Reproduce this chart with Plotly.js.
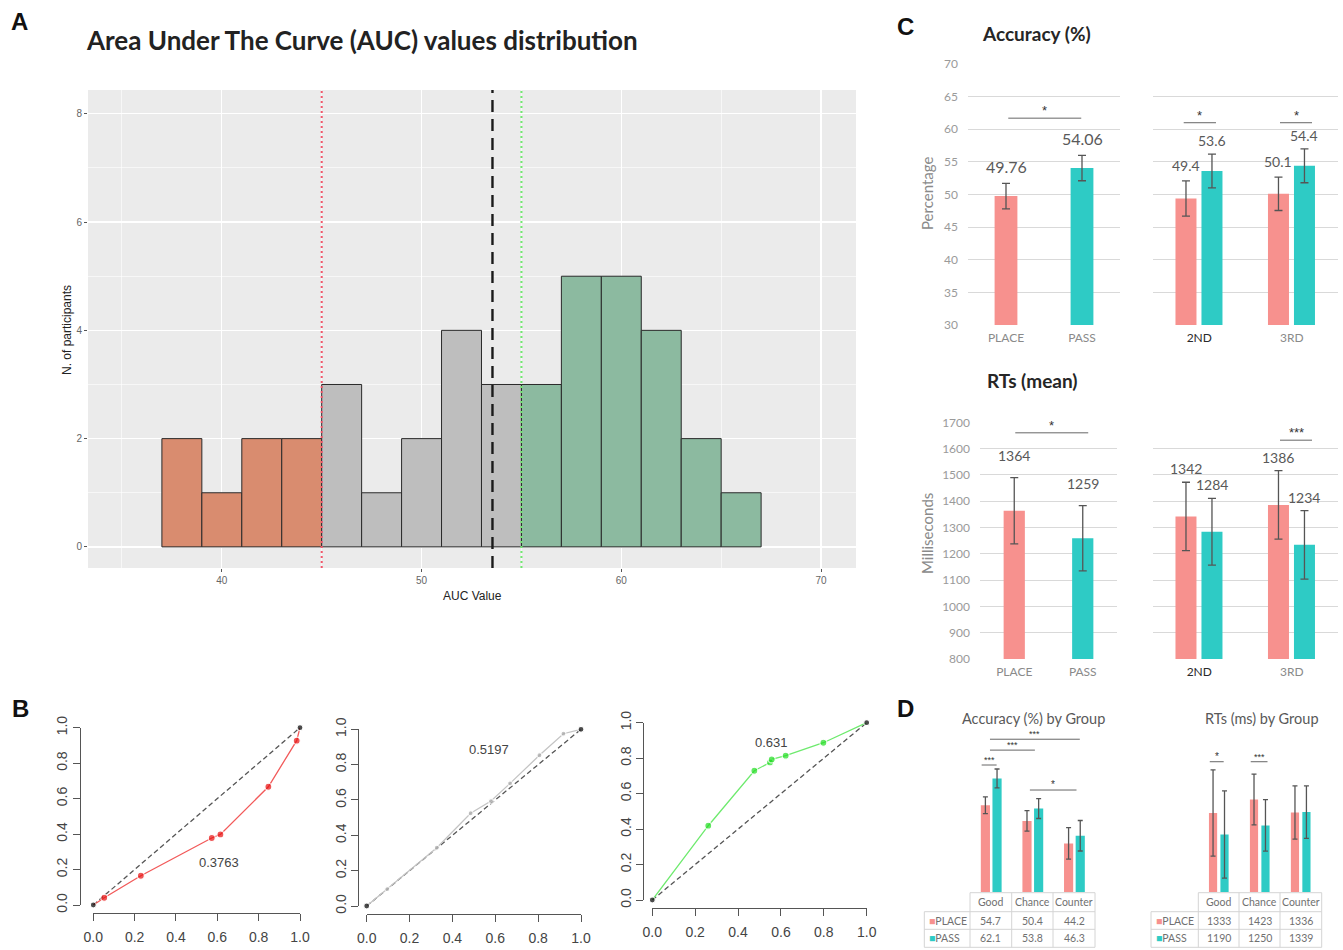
<!DOCTYPE html>
<html>
<head>
<meta charset="utf-8">
<script src="https://cdn.plot.ly/plotly-3.0.1.min.js"></script>
<style>html,body{margin:0;padding:0;background:#fff;}#chart{width:1343px;height:950px;}</style>
</head>
<body>
<div id="chart"></div>
<script>
// ---------------- DATA ----------------
// Panel A: histogram of AUC values (bin centres, width 2)
const aucBinCenters = [38, 40, 42, 44, 46, 48, 50, 52, 54, 56, 58, 60, 62, 64, 66];
const aucCounts     = [2, 1, 2, 2, 3, 1, 2, 4, 3, 3, 5, 5, 4, 2, 1];
const aucGroups     = ['low','low','low','low','mid','mid','mid','mid','mid','high','high','high','high','high','high'];
const aucCutoffs    = [45, 55];
const aucMean       = 53.55;
const aucTicks      = [40, 50, 60, 70];

// Panel B: ROC-like curves
const rocLowFpr  = [0, 0.053, 0.23, 0.573, 0.615, 0.847, 0.984, 1];
const rocLowTpr  = [0, 0.041, 0.165, 0.378, 0.398, 0.667, 0.927, 1];
const rocMidFpr  = [0, 0.096, 0.327, 0.485, 0.58, 0.669, 0.806, 0.918, 1];
const rocMidTpr  = [0, 0.096, 0.33, 0.525, 0.594, 0.694, 0.853, 0.975, 1];
const rocHighFpr = [0, 0.261, 0.476, 0.549, 0.557, 0.622, 0.798, 1];
const rocHighTpr = [0, 0.419, 0.729, 0.776, 0.793, 0.814, 0.887, 1];
const rocAucLabels = ['0.3763', '0.5197', '0.631'];
const rocTicks = [0, 0.2, 0.4, 0.6, 0.8, 1];
const rocTickText = ['0.0', '0.2', '0.4', '0.6', '0.8', '1.0'];

// Panel C
const groupLabels   = ['PLACE', 'PASS'];
const sessionLabels = ['2ND', '3RD'];
const accOverall    = [49.76, 54.06];
const accOverallErr = [1.95, 1.95];
const accPlaceBySession = [49.4, 50.1];
const accPassBySession  = [53.6, 54.4];
const accPlaceSessErr   = [2.7, 2.55];
const accPassSessErr    = [2.6, 2.6];
const rtOverall    = [1364, 1259];
const rtOverallErr = [126, 124];
const rtPlaceBySession = [1342, 1386];
const rtPassBySession  = [1284, 1234];
const rtPlaceSessErr   = [130, 130];
const rtPassSessErr    = [127, 130];

// Panel D
const aucGroupLabels  = ['Good', 'Chance', 'Counter'];
const accGroupPlace    = [54.7, 50.4, 44.2];
const accGroupPass     = [62.1, 53.8, 46.3];
const accGroupPlaceErr = [2.3, 2.8, 4.35];
const accGroupPassErr  = [2.6, 2.75, 4.2];
const rtGroupPlace     = [1333, 1423, 1336];
const rtGroupPass      = [1190, 1250, 1339];
const rtGroupPlaceErr  = [288, 169, 178];
const rtGroupPassErr   = [291, 172, 175];

// ---------------- HELPERS ----------------
const W = 1343, H = 950;
const px = v => v / W;
const py = v => 1 - v / H;
const domX = (a, b) => [px(a), px(b)];
const domY = (top, bottom) => [py(bottom), py(top)];

const LATO = 'Lato, "Open Sans", sans-serif';
const ARIAL = '"Liberation Sans", Arial, sans-serif';
const PLACE_COLOR = '#F7918E';
const PASS_COLOR = '#2ECBC5';
const ERR_COLOR = '#555555';

const traces = [];
const shapes = [];
const annotations = [];
const layout = {
  width: W, height: H,
  margin: {l: 0, r: 0, t: 0, b: 0},
  paper_bgcolor: '#ffffff',
  plot_bgcolor: 'rgba(0,0,0,0)',
  showlegend: false,
  barmode: 'overlay',
  font: {family: ARIAL, color: '#444'},
  shapes: shapes,
  annotations: annotations
};

function label(text, x, y, size, opts) {
  annotations.push(Object.assign({
    xref: 'paper', yref: 'paper', x: px(x), y: py(y), text: text, showarrow: false,
    xanchor: 'center', yanchor: 'middle',
    font: {family: LATO, size: size, color: '#222'}
  }, opts || {}));
}
function pline(x0, y0, x1, y1, color) {
  shapes.push({type: 'line', xref: 'paper', yref: 'paper', x0: px(x0), y0: py(y0), x1: px(x1), y1: py(y1),
    line: {color: color, width: 1}});
}

// ---------------- PANEL A ----------------
const histColors = {low: '#D98C6F', mid: '#BEBEBE', high: '#8CBAA0'};
shapes.push({type: 'rect', xref: 'x domain', yref: 'y domain', x0: 0, x1: 1, y0: 0, y1: 1,
  fillcolor: '#EBEBEB', line: {width: 0}, layer: 'below'});
traces.push({
  type: 'bar', x: aucBinCenters, y: aucCounts, width: 2, xaxis: 'x', yaxis: 'y',
  marker: {color: aucGroups.map(g => histColors[g]), line: {color: '#2a2a2a', width: 1}},
  hoverinfo: 'skip'
});
layout.xaxis = {
  domain: domX(88, 856), range: [33.3, 71.75], anchor: 'y',
  tickmode: 'array', tickvals: aucTicks,
  showgrid: true, gridcolor: '#ffffff', gridwidth: 1.3,
  minor: {dtick: 5, tick0: 35, showgrid: true, gridcolor: '#ffffff', gridwidth: 0.6},
  ticks: 'outside', ticklen: 3, tickcolor: '#555', tickfont: {family: ARIAL, size: 10, color: '#666'},
  zeroline: false, showline: false
};
layout.yaxis = {
  domain: domY(90, 568), range: [-0.39, 8.44], anchor: 'x',
  dtick: 2, tick0: 0,
  showgrid: true, gridcolor: '#ffffff', gridwidth: 1.3,
  minor: {dtick: 1, showgrid: true, gridcolor: '#ffffff', gridwidth: 0.6},
  ticks: 'outside', ticklen: 3, tickcolor: '#555', tickfont: {family: ARIAL, size: 10, color: '#666'},
  zeroline: false, showline: false
};
shapes.push({type: 'line', xref: 'x', yref: 'y domain', x0: aucCutoffs[0], x1: aucCutoffs[0], y0: 0, y1: 1,
  line: {color: '#F2566A', width: 2, dash: '2px,3px'}});
shapes.push({type: 'line', xref: 'x', yref: 'y domain', x0: aucMean, x1: aucMean, y0: 0, y1: 1,
  line: {color: '#1a1a1a', width: 2.4, dash: '12px,7px'}});
shapes.push({type: 'line', xref: 'x', yref: 'y domain', x0: aucCutoffs[1], x1: aucCutoffs[1], y0: 0, y1: 1,
  line: {color: '#6FE86F', width: 2, dash: '2px,3px'}});

label('A', 19, 21, 24, {font: {family: ARIAL, size: 24, color: '#111', weight: 'bold'}});
label('Area Under The Curve (AUC) values distribution', 84, 40, 26, {xanchor: 'left', font: {family: LATO, size: 26, color: '#222', weight: 'bold'}});
label('N. of participants', 67, 330, 12, {textangle: -90, font: {family: ARIAL, size: 12, color: '#222'}});
label('AUC Value', 472, 596, 12, {font: {family: ARIAL, size: 12, color: '#222'}});

// ---------------- PANEL B ----------------
const rocPanels = [
  {fpr: rocLowFpr, tpr: rocLowTpr, line: '#F25A5A', pt: '#E81010', size: 7, auc: rocAucLabels[0], ax: [0.61, 0.24],
   x0: 93.3, x1: 300, yb: 905, yt: 727.7, yLineX: 80, xLineY: 913},
  {fpr: rocMidFpr, tpr: rocMidTpr, line: '#C4C4C4', pt: '#A8A8A8', size: 5, auc: rocAucLabels[1], ax: [0.572, 0.887],
   x0: 366.7, x1: 581, yb: 906, yt: 729.3, yLineX: 358.3, xLineY: 914},
  {fpr: rocHighFpr, tpr: rocHighTpr, line: '#6EEA6E', pt: '#22DD22', size: 7, auc: rocAucLabels[2], ax: [0.554, 0.887],
   x0: 652.3, x1: 866.7, yb: 900, yt: 722.7, yLineX: 643.3, xLineY: 907.7}
];
rocPanels.forEach((p, i) => {
  const n = i + 2;
  const xa = 'x' + n, ya = 'y' + n;
  traces.push({type: 'scatter', mode: 'lines', x: [rocTicks[0], rocTicks[rocTicks.length - 1]],
    y: [rocTicks[0], rocTicks[rocTicks.length - 1]], xaxis: xa, yaxis: ya,
    line: {color: '#555', width: 1.3, dash: '5px,3px'}, hoverinfo: 'skip', cliponaxis: false});
  const last = p.fpr.length - 1;
  traces.push({type: 'scatter', mode: 'lines+markers', x: p.fpr, y: p.tpr, xaxis: xa, yaxis: ya,
    line: {color: p.line, width: 1.3},
    marker: {color: p.fpr.map((v, j) => (j === 0 || j === last) ? '#000' : p.pt),
             size: p.fpr.map((v, j) => (j === 0 || j === last) ? 6 : p.size),
             line: {color: '#fff', width: 1.2}},
    hoverinfo: 'skip', cliponaxis: false});
  layout['xaxis' + n] = {
    domain: domX(p.x0, p.x1), range: [0, 1], anchor: 'free', position: py(p.xLineY),
    tickmode: 'array', tickvals: rocTicks, ticktext: rocTickText,
    ticks: 'outside', ticklen: 7, tickcolor: '#555', showline: true, linecolor: '#555', linewidth: 1,
    showgrid: false, zeroline: false, tickfont: {family: ARIAL, size: 14, color: '#444'}, ticklabelstandoff: 4
  };
  layout['yaxis' + n] = {
    domain: domY(p.yt, p.yb), range: [0, 1], anchor: 'free', position: px(p.yLineX),
    tickmode: 'array', tickvals: rocTicks, ticktext: rocTickText, tickangle: -90,
    ticks: 'outside', ticklen: 7, tickcolor: '#555', showline: true, linecolor: '#555', linewidth: 1,
    showgrid: false, zeroline: false, tickfont: {family: ARIAL, size: 14, color: '#444'}, ticklabelstandoff: 0
  };
  annotations.push({xref: xa, yref: ya, x: p.ax[0], y: p.ax[1], text: p.auc, showarrow: false,
    font: {family: ARIAL, size: 13, color: '#444'}});
});
label('B', 20, 708, 22, {font: {family: ARIAL, size: 24, color: '#111', weight: 'bold'}});

// ---------------- PANEL C ----------------
function catAxis(n, xd, yd, yrange, dtick, showY, ticktext, tickvals) {
  layout['xaxis' + n] = {
    domain: xd, anchor: 'y' + n, type: 'category', showgrid: false, zeroline: false, showline: false, ticks: '',
    tickfont: {family: LATO, size: 12, color: '#8a8a8a'}, ticklabelstandoff: 4
  };
  if (ticktext) { layout['xaxis' + n].tickmode = 'array'; layout['xaxis' + n].tickvals = tickvals; layout['xaxis' + n].ticktext = ticktext; }
  layout['yaxis' + n] = {
    domain: yd, anchor: 'x' + n, range: yrange, dtick: dtick, showgrid: true, gridcolor: '#D9D9D9', gridwidth: 1,
    zeroline: false, showline: false, ticks: '', showticklabels: showY,
    tickfont: {family: LATO, size: 12, color: '#9a9a9a'}, ticklabelstandoff: 9
  };
}
const sessTickText = ['<span style="color:#2a2a2a">' + sessionLabels[0] + '</span>', sessionLabels[1]];
catAxis(5, domX(968, 1120), domY(64, 325), [30, 70], 5, true);
catAxis(6, domX(1153, 1338), domY(64, 325), [30, 70], 5, false, sessTickText, sessionLabels);
catAxis(7, domX(980, 1117), domY(422.3, 659), [800, 1700], 100, true);
catAxis(8, domX(1153, 1338), domY(422.3, 659), [800, 1700], 100, false, sessTickText, sessionLabels);

const errStyle = (arr, w) => ({type: 'data', array: arr, visible: true, color: ERR_COLOR, thickness: 1.3, width: w});
traces.push({type: 'bar', x: groupLabels, y: accOverall, width: 0.3, xaxis: 'x5', yaxis: 'y5',
  marker: {color: [PLACE_COLOR, PASS_COLOR]}, error_y: errStyle(accOverallErr, 4), hoverinfo: 'skip'});
traces.push({type: 'bar', x: groupLabels, y: rtOverall, width: 0.31, xaxis: 'x7', yaxis: 'y7',
  marker: {color: [PLACE_COLOR, PASS_COLOR]}, error_y: errStyle(rtOverallErr, 4), hoverinfo: 'skip'});
const sessW = 0.227, placeOff = -0.257, passOff = 0.024;
function pairBars(n, cats, placeVals, passVals, placeErr, passErr, w, pOff, qOff, cap) {
  traces.push({type: 'bar', x: cats, y: placeVals, width: w, offset: pOff, xaxis: 'x' + n, yaxis: 'y' + n,
    marker: {color: PLACE_COLOR}, error_y: errStyle(placeErr, cap), hoverinfo: 'skip'});
  traces.push({type: 'bar', x: cats, y: passVals, width: w, offset: qOff, xaxis: 'x' + n, yaxis: 'y' + n,
    marker: {color: PASS_COLOR}, error_y: errStyle(passErr, cap), hoverinfo: 'skip'});
}
pairBars(6, sessionLabels, accPlaceBySession, accPassBySession, accPlaceSessErr, accPassSessErr, sessW, placeOff, passOff, 4);
pairBars(8, sessionLabels, rtPlaceBySession, rtPassBySession, rtPlaceSessErr, rtPassSessErr, sessW, placeOff, passOff, 4);

function valLabel(n, x, y, text, size, shift) {
  annotations.push({xref: 'x' + n, yref: 'y' + n, x: x, y: y, text: text, showarrow: false,
    yanchor: 'bottom', yshift: shift, font: {family: LATO, size: size, color: '#595959'}});
}
groupLabels.forEach((g, i) => {
  valLabel(5, i, accOverall[i] + accOverallErr[i], accOverall[i].toFixed(2), 16, 5);
  valLabel(7, i, rtOverall[i] + rtOverallErr[i], String(rtOverall[i]), 14, 12);
});
const placeC = placeOff + sessW / 2, passC = passOff + sessW / 2;
sessionLabels.forEach((s, i) => {
  valLabel(6, i + placeC, accPlaceBySession[i] + accPlaceSessErr[i], accPlaceBySession[i].toFixed(1), 14, 5);
  valLabel(6, i + passC, accPassBySession[i] + accPassSessErr[i], accPassBySession[i].toFixed(1), 14, 3);
  valLabel(8, i + placeC, rtPlaceBySession[i] + rtPlaceSessErr[i], String(rtPlaceBySession[i]), 14, 3);
  valLabel(8, i + passC, rtPassBySession[i] + rtPassSessErr[i], String(rtPassBySession[i]), 14, 3);
});

function sig(n, x0, x1, y, stars, size) {
  shapes.push({type: 'line', xref: 'x' + n, yref: 'y' + n, x0: x0, x1: x1, y0: y, y1: y,
    line: {color: '#666', width: 1}});
  annotations.push({xref: 'x' + n, yref: 'y' + n, x: (x0 + x1) / 2, y: y, text: stars, showarrow: false,
    yanchor: 'bottom', yshift: -2, font: {family: ARIAL, size: size, color: '#333'}});
}
sig(5, 0.03, 0.99, 61.7, '*', 13);
sig(6, -0.168, 0.181, 61.0, '*', 13);
sig(6, 0.873, 1.219, 61.0, '*', 13);
sig(7, 0.015, 1.08, 1660, '*', 13);
sig(8, 0.873, 1.219, 1632, '***', 13);

label('C', 905, 27, 24, {font: {family: ARIAL, size: 24, color: '#111', weight: 'bold'}});
label('Accuracy (%)', 1036, 34, 19, {font: {family: LATO, size: 19, color: '#262626', weight: 'bold'}});
label('RTs (mean)', 1032, 381, 19, {font: {family: LATO, size: 19, color: '#262626', weight: 'bold'}});
label('Percentage', 927, 194, 15, {textangle: -90, font: {family: LATO, size: 15, color: '#8a8a8a'}});
label('Milliseconds', 927, 534, 15, {textangle: -90, font: {family: LATO, size: 15, color: '#8a8a8a'}});

// ---------------- PANEL D ----------------
function hiddenAxes(n, xd, yrange) {
  layout['xaxis' + n] = {domain: xd, anchor: 'y' + n, type: 'category', visible: false};
  layout['yaxis' + n] = {domain: domY(720, 892), anchor: 'x' + n, range: yrange, visible: false};
}
hiddenAxes(9, domX(970, 1095), [30.8, 78.2]);
hiddenAxes(10, domX(1198.3, 1321.7), [806, 1953]);
pairBars(9, aucGroupLabels, accGroupPlace, accGroupPass, accGroupPlaceErr, accGroupPassErr, 0.22, -0.24, 0.04, 2.5);
pairBars(10, aucGroupLabels, rtGroupPlace, rtGroupPass, rtGroupPlaceErr, rtGroupPassErr, 0.2, -0.24, 0.04, 2.5);

sig(9, -0.22, 0.14, 65.8, '***', 9);
sig(9, -0.02, 1.06, 69.9, '***', 9);
sig(9, -0.02, 2.14, 72.9, '***', 9);
sig(9, 0.94, 2.06, 58.9, '*', 10);
sig(10, -0.22, 0.12, 1674.7, '*', 10);
sig(10, 0.78, 1.19, 1674.7, '***', 9);

function dataTable(n, colEdges, cats, placeVals, passVals, fmt) {
  const rowEdges = [892.7, 911.7, 929.3, 947.3];
  const lc = '#D4D4D4';
  pline(colEdges[1], rowEdges[0], colEdges[4], rowEdges[0], lc);
  for (let r = 1; r < 4; r++) pline(colEdges[0], rowEdges[r], colEdges[4], rowEdges[r], lc);
  pline(colEdges[0], rowEdges[1], colEdges[0], rowEdges[3], lc);
  for (let c = 1; c < 5; c++) pline(colEdges[c], rowEdges[0], colEdges[c], rowEdges[3], lc);
  const cy = [902.2, 920.5, 938.3];
  const f = {family: LATO, size: 10.5, color: '#707070'};
  cats.forEach((c, i) => {
    [c, fmt(placeVals[i]), fmt(passVals[i])].forEach((t, r) => {
      annotations.push({xref: 'x' + n, yref: 'paper', x: i, y: py(cy[r]), text: t, showarrow: false,
        xanchor: 'center', yanchor: 'middle', font: f});
    });
  });
  label('<span style="color:' + PLACE_COLOR + '">■</span>' + groupLabels[0], colEdges[0] + 3, cy[1], 10.5,
    {xanchor: 'left', font: f});
  label('<span style="color:' + PASS_COLOR + '">■</span>' + groupLabels[1], colEdges[0] + 3, cy[2], 10.5,
    {xanchor: 'left', font: f});
}
dataTable(9, [924.3, 970, 1011.7, 1053, 1095], aucGroupLabels, accGroupPlace, accGroupPass, v => v.toFixed(1));
dataTable(10, [1151, 1198.3, 1239, 1280, 1321.7], aucGroupLabels, rtGroupPlace, rtGroupPass, v => String(v));

label('D', 905, 708, 24, {font: {family: ARIAL, size: 24, color: '#111', weight: 'bold'}});
label('Accuracy (%) by Group', 1033, 718, 14.5, {font: {family: LATO, size: 14.5, color: '#595959'}});
label('RTs (ms) by Group', 1262, 718, 14.5, {font: {family: LATO, size: 14.5, color: '#595959'}});

Plotly.newPlot('chart', traces, layout, {staticPlot: true, displayModeBar: false});
</script>
</body>
</html>
